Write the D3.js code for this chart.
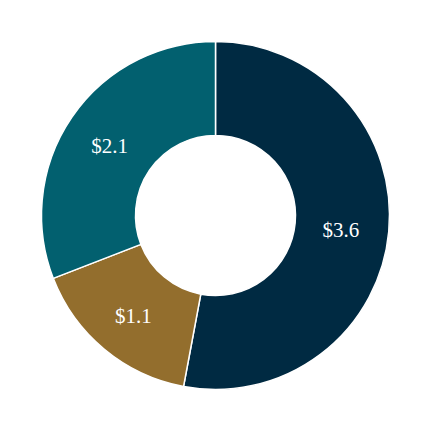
<!DOCTYPE html>
<html>
<head>
	<meta charset="utf-8">
	<title>Donut chart</title>
	<script src="https://d3js.org/d3.v7.min.js"></script>
	<style>
		body { margin: 0; background: #fff; }
		.label {
			fill: #fff;
			font-family: "Liberation Serif", "Times New Roman", serif;
			font-size: 21px;
		}
	</style>
</head>
<body>
<svg id="chart"></svg>
<script>
var categories = ['A', 'B', 'C'];
var values = [3.6, 1.1, 2.1];
var labels = ['$3.6', '$1.1', '$2.1'];
var colors = ['#002a42', '#936e2d', '#02606f'];

(function () {
	var _width = 430,
		_height = 430,
		_cx = 215.5,
		_cy = 215.5,
		_outer = 174,
		_inner = 80;

	var _data = categories.map(function (c, i) {
		return { cat: c, value: values[i], label: labels[i], color: colors[i] };
	});

	var _svg = d3.select('#chart')
			.attr('width', _width)
			.attr('height', _height)
		.append('g')
			.attr('transform', 'translate(' + _cx + ',' + _cy + ')');

	var pie = d3.pie().sort(null).value(function (d) { return d.value; });
	var arc = d3.arc().innerRadius(_inner).outerRadius(_outer);
	var arcs = pie(_data);

	_svg.selectAll('path')
		.data(arcs)
		.enter()
		.append('path')
			.attr('d', arc)
			.attr('fill', function (d) { return d.data.color; })
			.attr('stroke', '#fff')
			.attr('stroke-width', 1.5);

	_svg.selectAll('text')
		.data(arcs)
		.enter()
		.append('text')
			.attr('class', 'label')
			.attr('transform', function (d) { var c = arc.centroid(d); return 'translate(' + (c[0] - 1) + ',' + (c[1] + 2) + ')'; })
			.attr('text-anchor', 'middle')
			.attr('dy', '0.35em')
			.text(function (d) { return d.data.label; });
}());
</script>
</body>
</html>
